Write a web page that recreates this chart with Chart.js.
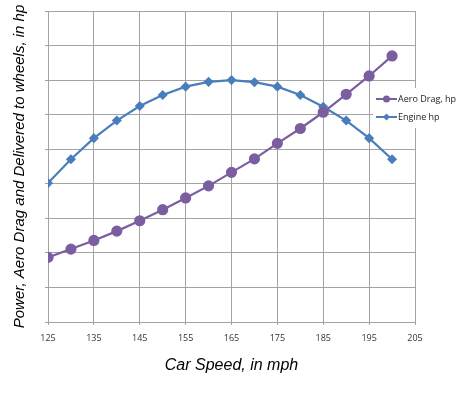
<!DOCTYPE html>
<html>
<head>
<meta charset="utf-8">
<script src="https://cdn.jsdelivr.net/npm/chart.js@4/dist/chart.umd.min.js"></script>
<style>
  html, body { margin: 0; padding: 0; background: #fff; }
  #wrap { width: 474px; height: 399px; position: relative; }
</style>
</head>
<body>
<div id="wrap"><canvas id="chart"></canvas></div>
<script>
// speeds in mph
const speeds = [125, 130, 135, 140, 145, 150, 155, 160, 165, 170, 175, 180, 185, 190, 195, 200];
// values, in gridline units (y axis has no labels)
const aeroDrag = [1.87, 2.11, 2.36, 2.63, 2.93, 3.25, 3.59, 3.94, 4.33, 4.72, 5.17, 5.6, 6.07, 6.59, 7.12, 7.7];
const engineHp = [4.02, 4.71, 5.32, 5.83, 6.25, 6.57, 6.81, 6.95, 7.0, 6.94, 6.81, 6.57, 6.23, 5.83, 5.32, 4.71];
const seriesNames = ['Aero Drag, hp', 'Engine hp'];
const xTitle = 'Car Speed, in mph';
const yTitle = 'Power, Aero Drag and Delivered to wheels, in hp';

const purple = '#7b5e9f';
const blue = '#4a7ebb';
const gridColor = '#a3a3a3';

// small legend box drawn on the right, over the plot border
const boxLegend = {
  id: 'boxLegend',
  afterDraw(chart) {
    const ctx = chart.ctx;
    ctx.save();
    ctx.fillStyle = '#fff';
    ctx.fillRect(373, 88, 84, 40);
    chart.data.datasets.forEach((ds, i) => {
      const y = 99 + i * 18;
      ctx.strokeStyle = ds.borderColor;
      ctx.lineWidth = 2;
      ctx.beginPath();
      ctx.moveTo(376, y);
      ctx.lineTo(397, y);
      ctx.stroke();
      ctx.fillStyle = ds.pointBackgroundColor;
      ctx.beginPath();
      if (ds.pointStyle === 'rectRot') {
        ctx.moveTo(386.5, y - 3.5); ctx.lineTo(390, y); ctx.lineTo(386.5, y + 3.5); ctx.lineTo(383, y);
      } else {
        ctx.arc(386.5, y, 3.5, 0, Math.PI * 2);
      }
      ctx.fill();
      ctx.fillStyle = '#222';
      ctx.font = '9px "Open Sans"';
      ctx.textBaseline = 'middle';
      ctx.fillText(ds.label, 398, y);
    });
    ctx.restore();
  }
};

new Chart(document.getElementById('chart'), {
  type: 'line',
  data: {
    datasets: [
      {
        label: seriesNames[0],
        data: speeds.map((s, i) => ({ x: s, y: aeroDrag[i] })),
        borderColor: purple,
        backgroundColor: purple,
        pointBackgroundColor: purple,
        pointBorderColor: purple,
        pointStyle: 'circle',
        pointRadius: 4.5,
        borderWidth: 2.2,
      },
      {
        label: seriesNames[1],
        data: speeds.map((s, i) => ({ x: s, y: engineHp[i] })),
        borderColor: blue,
        backgroundColor: blue,
        pointBackgroundColor: blue,
        pointBorderColor: blue,
        pointStyle: 'rectRot',
        pointRadius: 3.5,
        borderWidth: 2.2,
      },
    ],
  },
  options: {
    responsive: true,
    maintainAspectRatio: false,
    animation: false,
    layout: { padding: { left: 0, top: 11, right: 59, bottom: 0 } },
    plugins: {
      legend: { display: false },
      tooltip: { enabled: false },
    },
    scales: {
      x: {
        type: 'linear',
        min: 125,
        max: 205,
        ticks: { stepSize: 10, padding: 8, color: '#333', font: { family: 'Open Sans', size: 9 } },
        grid: { color: gridColor, tickLength: 3, lineWidth: 1 },
        border: { color: gridColor },
        title: {
          display: true,
          text: xTitle,
          color: '#000',
          padding: { top: 0, bottom: 24 },
          font: { family: 'Liberation Sans', size: 16, style: 'italic' },
        },
        afterFit: (scale) => { scale.height = 77; },
      },
      y: {
        min: 0,
        max: 9,
        ticks: { stepSize: 1, display: false },
        grid: { color: gridColor, tickLength: 3, lineWidth: 1 },
        border: { color: gridColor },
        title: {
          display: true,
          text: yTitle,
          color: '#000',
          padding: { top: 11, bottom: 0 },
          font: { family: 'Liberation Sans', size: 15, style: 'italic' },
        },
        afterFit: (scale) => { scale.width = 48; },
      },
    },
  },
  plugins: [boxLegend],
});
</script>
</body>
</html>
